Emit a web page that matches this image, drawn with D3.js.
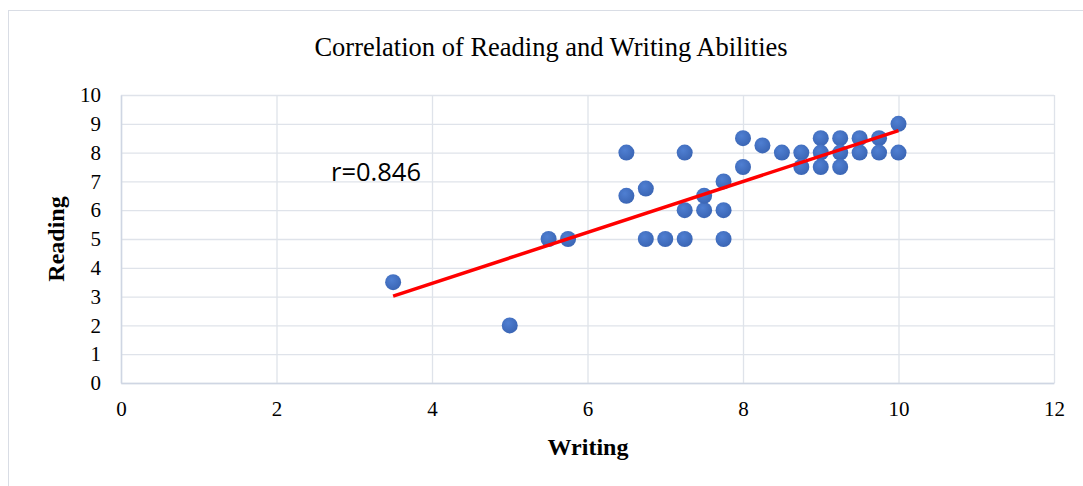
<!DOCTYPE html>
<html>
<head>
<meta charset="utf-8">
<script src="https://cdn.jsdelivr.net/npm/d3@7"></script>
<style>
  body { margin: 0; background: #fff; }
</style>
</head>
<body>
<div id="chart"></div>
<script>
// writing score (x) and reading score (y), one entry per student
const writing = [3.5, 5, 5.5, 5.75, 6.5, 6.5, 6.75, 6.75, 7, 7.25, 7.25, 7.25,
  7.5, 7.5, 7.75, 7.75, 7.75, 8, 8, 8.25, 8.5, 8.75, 8.75, 9, 9, 9,
  9.25, 9.25, 9.25, 9.5, 9.5, 9.75, 9.75, 10, 10];
const reading = [3.5, 2, 5, 5, 8, 6.5, 6.75, 5, 5, 5, 8, 6,
  6, 6.5, 7, 6, 5, 8.5, 7.5, 8.25, 8, 8, 7.5, 8.5, 8, 7.5,
  8.5, 8, 7.5, 8.5, 8, 8.5, 8, 9, 8];
const xTicks = [0, 2, 4, 6, 8, 10, 12];
const yTicks = [0, 1, 2, 3, 4, 5, 6, 7, 8, 9, 10];
const rLabel = "r=0.846";

const width = 1083, height = 486;
const margin = {top: 95, right: 29, bottom: 103, left: 121};
const visWidth = width - margin.left - margin.right;
const visHeight = height - margin.top - margin.bottom;

const data = writing.map((w, i) => ({w: w, r: reading[i]}));

const x = d3.scaleLinear().domain([0, 12]).range([0, visWidth]);
const y = d3.scaleLinear().domain([0, 10]).range([visHeight, 0]);

const svg = d3.select('#chart').append('svg')
  .attr('width', width)
  .attr('height', height);

// chart frame
svg.append('rect')
  .attr('x', 8.5).attr('y', 10.5)
  .attr('width', width).attr('height', height)
  .attr('fill', 'none')
  .attr('stroke', '#d9dde5');

svg.append('text')
  .attr('x', 551).attr('y', 56)
  .attr('text-anchor', 'middle')
  .attr('font-family', 'Liberation Serif')
  .attr('font-size', 26.5)
  .text('Correlation of Reading and Writing Abilities');

const g = svg.append('g')
  .attr('transform', `translate(${margin.left}, ${margin.top})`);

// gridlines
g.append('g')
  .call(d3.axisLeft(y).tickValues(yTicks).tickSize(-visWidth).tickFormat(''))
  .call(g => g.select('.domain').remove())
  .selectAll('line').attr('stroke', '#dfe3ea').attr('stroke-width', 1.3);

g.append('g')
  .call(d3.axisBottom(x).tickValues(xTicks).tickSize(visHeight).tickFormat(''))
  .call(g => g.select('.domain').remove())
  .selectAll('line').attr('stroke', '#dfe3ea').attr('stroke-width', 1.3);

// axes (labels only)
const xAxis = d3.axisBottom(x).tickValues(xTicks).tickSize(0).tickPadding(18)
  .tickFormat(d3.format('d'));
const yAxis = d3.axisLeft(y).tickValues(yTicks).tickSize(0).tickPadding(20);

g.append('g')
  .attr('transform', `translate(0,${visHeight})`)
  .call(xAxis)
  .call(g => g.select('.domain').attr('stroke', '#cfd6e3').attr('stroke-width', 1.5))
  .selectAll('text')
    .attr('font-family', 'Liberation Serif')
    .attr('font-size', 21)
    .attr('fill', '#000');

g.append('g')
  .call(yAxis)
  .call(g => g.select('.domain').attr('stroke', '#cfd6e3').attr('stroke-width', 1.5))
  .selectAll('text')
    .attr('font-family', 'Liberation Serif')
    .attr('font-size', 21)
    .attr('fill', '#000');

// axis titles
svg.append('text')
  .attr('x', 588).attr('y', 455)
  .attr('text-anchor', 'middle')
  .attr('font-family', 'Liberation Serif')
  .attr('font-weight', 'bold')
  .attr('font-size', 24)
  .text('Writing');

svg.append('text')
  .attr('transform', 'translate(64,239) rotate(-90)')
  .attr('text-anchor', 'middle')
  .attr('font-family', 'Liberation Serif')
  .attr('font-weight', 'bold')
  .attr('font-size', 24)
  .text('Reading');

// points
const grad = svg.append('defs').append('radialGradient')
  .attr('id', 'dot').attr('cx', '40%').attr('cy', '35%').attr('r', '65%');
grad.append('stop').attr('offset', '0%').attr('stop-color', '#4f7fd2');
grad.append('stop').attr('offset', '100%').attr('stop-color', '#3b66b5');

g.append('g')
  .selectAll('circle')
  .data(data)
  .join('circle')
    .attr('cx', d => x(d.w))
    .attr('cy', d => y(d.r))
    .attr('r', 8)
    .attr('fill', 'url(#dot)');

// least squares trend line
const mx = d3.mean(writing), my = d3.mean(reading);
const slope = d3.sum(data, d => (d.w - mx) * (d.r - my)) / d3.sum(data, d => (d.w - mx) ** 2);
const icpt = my - slope * mx;
const ext = d3.extent(writing);
const line = d3.line().x(d => x(d)).y(d => y(icpt + slope * d));

g.append('path')
  .attr('d', line(ext))
  .attr('stroke', '#ff0000')
  .attr('stroke-width', 3.5)
  .attr('fill', 'none');

svg.append('text')
  .attr('x', 331).attr('y', 181)
  .attr('font-family', 'Open Sans')
  .attr('font-size', 25.5)
  .text(rLabel);
</script>
</body>
</html>
